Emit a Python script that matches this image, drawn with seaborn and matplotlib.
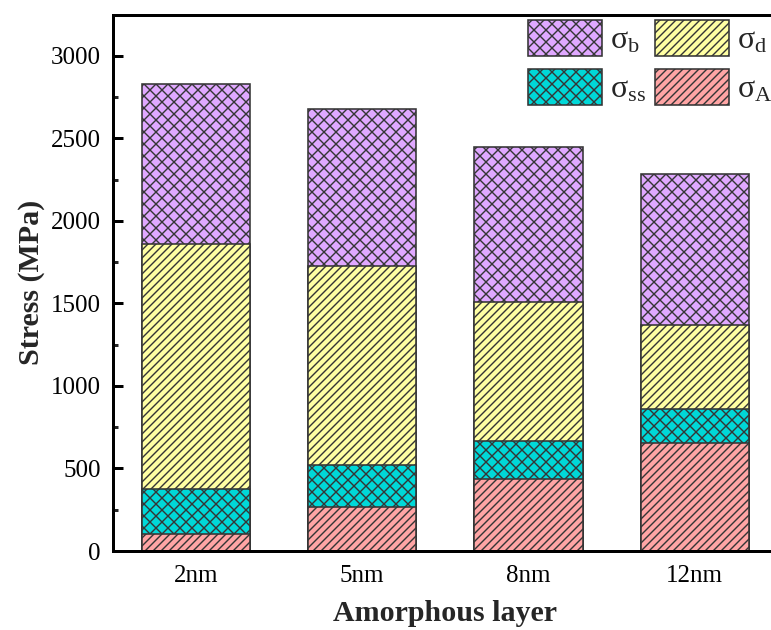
import numpy as np
import pandas as pd
import matplotlib
matplotlib.use("Agg")
import matplotlib.pyplot as plt
from matplotlib.patches import Patch
from matplotlib.ticker import MultipleLocator, AutoMinorLocator
import seaborn as sns

# Stress contributions (MPa) for each amorphous-layer thickness
layers = ["2nm", "5nm", "8nm", "12nm"]
sigma_A = [105, 268, 435, 653]
sigma_ss = [271, 253, 232, 206]
sigma_d = [1486, 1204, 842, 511]
sigma_b = [968, 954, 939, 915]

components = [
    (r"σ$_{\mathrm{A}}$", sigma_A, "#FFA5A5", "//////"),
    (r"σ$_{\mathrm{ss}}$", sigma_ss, "#00D8D8", "xxxx"),
    (r"σ$_{\mathrm{d}}$", sigma_d, "#FFFFA3", "//////"),
    (r"σ$_{\mathrm{b}}$", sigma_b, "#E0A8FF", "xxxx"),
]

sns.set_theme(style="ticks")
plt.rcParams["font.family"] = ["Liberation Serif", "DejaVu Serif"]
plt.rcParams["mathtext.fontset"] = "custom"
plt.rcParams["mathtext.rm"] = "Liberation Serif"
plt.rcParams["mathtext.it"] = "Liberation Serif:italic"
plt.rcParams["mathtext.bf"] = "Liberation Serif:bold"
plt.rcParams["hatch.linewidth"] = 0.7

DPI = 144
fig = plt.figure(figsize=(771 / DPI, 630 / DPI), dpi=DPI)
ax = fig.add_axes([112.7 / 771, 79 / 630, (778 - 112.7) / 771, (551 - 14.7) / 630])

edge = "#353535"

# Stacked bars: draw cumulative totals from the top layer down so each
# lower segment covers the one above it
stack = np.cumsum([c[1] for c in components], axis=0)
for i in range(len(components) - 1, -1, -1):
    name, _, color, hatch = components[i]
    df = pd.DataFrame({"layer": layers, "stress": stack[i]})
    n_before = len(ax.patches)
    sns.barplot(data=df, x="layer", y="stress", color=color, saturation=1,
                width=0.65, edgecolor=edge, linewidth=0.8, ax=ax, errorbar=None)
    for p in ax.patches[n_before:]:
        p.set_hatch(hatch)

ax.set_xlim(-0.5, 3.5)
ax.set_ylim(0, 3250)
ax.yaxis.set_major_locator(MultipleLocator(500))
ax.yaxis.set_minor_locator(AutoMinorLocator(2))

for side in ["left", "bottom", "top", "right"]:
    ax.spines[side].set_linewidth(1.5)
    ax.spines[side].set_color("black")

ax.tick_params(axis="y", which="major", direction="in", length=5, width=1.5,
               labelsize=12.5, pad=6, colors="black")
ax.tick_params(axis="y", which="minor", direction="in", length=2.6, width=1.5)
ax.tick_params(axis="x", which="major", direction="in", length=4, width=1.5,
               labelsize=12.5, pad=7, colors="black")

ax.set_xlabel("Amorphous layer", fontsize=15, fontweight="bold", labelpad=6.5)
ax.set_ylabel("Stress (MPa)", fontsize=15, fontweight="bold", labelpad=3)

handles = [Patch(facecolor=components[k][2], edgecolor=edge, linewidth=0.8,
                 hatch=components[k][3], label=components[k][0])
           for k in (3, 1, 2, 0)]
leg = fig.legend(handles=handles, ncol=2, loc="upper left",
                 bbox_to_anchor=(528 / 771, 1 - 20 / 630),
                 frameon=False, fontsize=16, handlelength=2.3,
                 handleheight=1.34, labelspacing=0.42, handletextpad=0.25,
                 columnspacing=0.3, borderpad=0, borderaxespad=0)

fig.savefig("out.png", dpi=DPI)
